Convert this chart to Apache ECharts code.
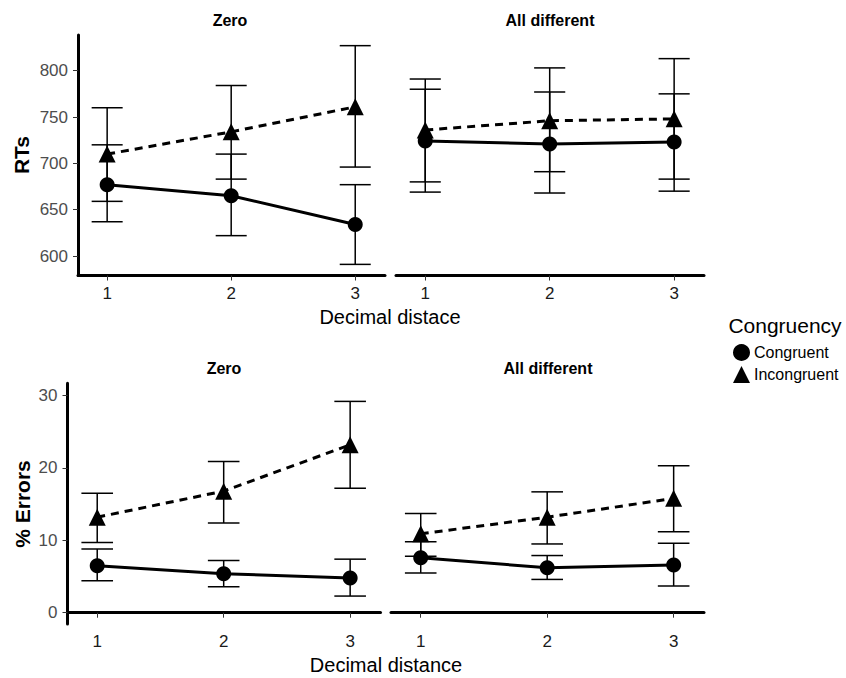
<!DOCTYPE html>
<html>
<head>
<meta charset="utf-8">
<script src="https://cdn.jsdelivr.net/npm/echarts@6/dist/echarts.min.js"></script>
<style>
  html, body { margin: 0; padding: 0; background: #fff; }
  #chart { width: 846px; height: 678px; }
</style>
</head>
<body>
<div id="chart"></div>
<script>
// decimal distance on the x axis
const distances = [1, 2, 3]
const rtTicks = [600, 650, 700, 750, 800]
const errTicks = [0, 10, 20, 30]

// RTs, "Zero" condition
const rtZeroCong = [677, 665, 634]
const rtZeroCongLo = [637, 622, 591]
const rtZeroCongHi = [720, 710, 677]
const rtZeroIncong = [710, 734, 761]
const rtZeroIncongLo = [659, 683, 696]
const rtZeroIncongHi = [760, 784, 827]

// RTs, "All different" condition
const rtAllCong = [724, 721, 723]
const rtAllCongLo = [669, 668, 670]
const rtAllCongHi = [780, 777, 775]
const rtAllIncong = [736, 746, 748]
const rtAllIncongLo = [680, 691, 683]
const rtAllIncongHi = [791, 803, 813]

// % errors, "Zero" condition
const errZeroCong = [6.5, 5.4, 4.8]
const errZeroCongLo = [4.4, 3.6, 2.3]
const errZeroCongHi = [8.8, 7.2, 7.4]
const errZeroIncong = [13.2, 16.8, 23.2]
const errZeroIncongLo = [9.7, 12.4, 17.2]
const errZeroIncongHi = [16.5, 20.9, 29.2]

// % errors, "All different" condition
const errAllCong = [7.6, 6.2, 6.6]
const errAllCongLo = [5.5, 4.6, 3.7]
const errAllCongHi = [9.8, 7.9, 9.6]
const errAllIncong = [10.9, 13.2, 15.8]
const errAllIncongLo = [7.8, 9.5, 11.2]
const errAllIncongHi = [13.7, 16.7, 20.3]

const FONT = '"Liberation Sans", Arial, sans-serif'
const capHalf = 0.125

function pts(vals) {
  return distances.map((d, i) => [d, vals[i]])
}
function bars(lo, hi) {
  return distances.map((d, i) => [d, lo[i], hi[i]])
}

function errorBar(params, api) {
  const x = api.value(0)
  const lo = api.coord([x, api.value(1)])
  const hi = api.coord([x, api.value(2)])
  const l = api.coord([x - capHalf, 0])[0]
  const r = api.coord([x + capHalf, 0])[0]
  const style = { stroke: '#000', lineWidth: 1.5 }
  return {
    type: 'group',
    children: [
      { type: 'line', shape: { x1: lo[0], y1: lo[1], x2: hi[0], y2: hi[1] }, style },
      { type: 'line', shape: { x1: l, y1: hi[1], x2: r, y2: hi[1] }, style },
      { type: 'line', shape: { x1: l, y1: lo[1], x2: r, y2: lo[1] }, style }
    ]
  }
}

function xAxis(gi) {
  return {
    gridIndex: gi, type: 'value', min: 0.765, max: 3.24,
    axisLine: { lineStyle: { color: '#000', width: 3 } },
    axisTick: { customValues: distances, length: 5, lineStyle: { color: '#333', width: 1 } },
    axisLabel: { customValues: distances, color: '#1a1a1a', fontSize: 17, fontFamily: FONT, margin: 9 },
    splitLine: { show: false }
  }
}
function yAxis(gi, min, max, ticks, show) {
  return {
    gridIndex: gi, type: 'value', min, max, show,
    axisLine: { show: true, lineStyle: { color: '#000', width: 3 } },
    axisTick: { show: true, customValues: ticks, length: 5, lineStyle: { color: '#333', width: 1 } },
    axisLabel: { customValues: ticks, color: '#4d4d4d', fontSize: 17, fontFamily: FONT, margin: 10 },
    splitLine: { show: false }
  }
}

function panel(gi, cong, congLo, congHi, inc, incLo, incHi) {
  return [
    { type: 'custom', xAxisIndex: gi, yAxisIndex: gi, renderItem: errorBar, data: bars(congLo, congHi), z: 1 },
    { type: 'custom', xAxisIndex: gi, yAxisIndex: gi, renderItem: errorBar, data: bars(incLo, incHi), z: 1 },
    {
      name: 'Congruent', type: 'line', xAxisIndex: gi, yAxisIndex: gi, data: pts(cong), z: 3,
      symbol: 'circle', symbolSize: 15,
      lineStyle: { color: '#000', width: 3 }, itemStyle: { color: '#000' }
    },
    {
      name: 'Incongruent', type: 'line', xAxisIndex: gi, yAxisIndex: gi, data: pts(inc), z: 3,
      symbol: 'triangle', symbolSize: 17,
      lineStyle: { color: '#000', width: 3, type: [8, 6] }, itemStyle: { color: '#000' }
    }
  ]
}

function label(text, x, y, size, bold, rotate) {
  return {
    type: 'text', x, y, rotation: rotate ? Math.PI / 2 : 0,
    style: {
      text, fill: '#000', font: (bold ? 'bold ' : '') + size + 'px ' + FONT,
      textAlign: 'center', textVerticalAlign: 'middle'
    }
  }
}

const chart = echarts.init(document.getElementById('chart'), null, { renderer: 'svg' })
chart.setOption({
  animation: false,
  backgroundColor: '#fff',
  grid: [
    { left: 78, top: 35, width: 307, height: 240.5 },
    { left: 396, top: 35, width: 308, height: 240.5 },
    { left: 67.5, top: 383.3, width: 313, height: 240.7 },
    { left: 391, top: 383.3, width: 313, height: 240.7 }
  ],
  xAxis: [xAxis(0), xAxis(1), xAxis(2), xAxis(3)],
  yAxis: [
    yAxis(0, 579, 838.5, rtTicks, true),
    yAxis(1, 579, 838.5, rtTicks, false),
    yAxis(2, -1.56, 31.7, errTicks, true),
    yAxis(3, -1.56, 31.7, errTicks, false)
  ],
  legend: {
    orient: 'vertical', left: 728, top: 339, itemGap: 5, itemWidth: 17, itemHeight: 17,
    selectedMode: false,
    textStyle: { color: '#000', fontSize: 16, fontFamily: FONT, padding: [0, 0, 0, -1] },
    data: [{ name: 'Congruent', icon: 'circle' }, { name: 'Incongruent', icon: 'triangle' }]
  },
  graphic: [
    label('Zero', 230, 20, 16, true),
    label('All different', 550, 20, 16, true),
    label('Zero', 224, 368, 16, true),
    label('All different', 548, 368, 16, true),
    label('RTs', 21, 155, 21, true, true),
    label('% Errors', 22, 504, 21, true, true),
    label('Decimal distace', 390, 317, 20, false),
    label('Decimal distance', 386, 665, 20, false),
    label('Congruency', 785, 325, 21, false)
  ],
  series: [
    ...panel(0, rtZeroCong, rtZeroCongLo, rtZeroCongHi, rtZeroIncong, rtZeroIncongLo, rtZeroIncongHi),
    ...panel(1, rtAllCong, rtAllCongLo, rtAllCongHi, rtAllIncong, rtAllIncongLo, rtAllIncongHi),
    ...panel(2, errZeroCong, errZeroCongLo, errZeroCongHi, errZeroIncong, errZeroIncongLo, errZeroIncongHi),
    ...panel(3, errAllCong, errAllCongLo, errAllCongHi, errAllIncong, errAllIncongLo, errAllIncongHi)
  ]
})
</script>
</body>
</html>
